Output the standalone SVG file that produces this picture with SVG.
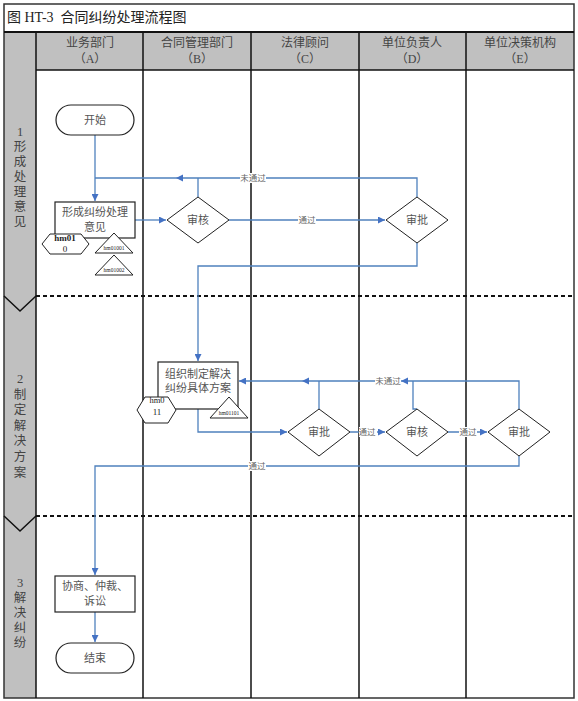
<svg xmlns="http://www.w3.org/2000/svg" width="578" height="701" viewBox="0 0 578 701">
<style>
.t{font-family:"Liberation Serif","Noto Sans CJK SC",serif;fill:#555;text-anchor:middle;}
.hd{font-size:12px;fill:#444;}
.nd{font-size:11px;}
.ph{font-size:12.5px;fill:#444;}
.lb{font-size:8.5px;fill:#666;}
.sm{font-family:"Liberation Serif",serif;fill:#222;text-anchor:middle;}
.shape{fill:#fff;stroke:#222;stroke-width:1;}
.box{fill:#fff;stroke:#222;stroke-width:1.2;}
.c{fill:none;stroke:#4f81bd;stroke-width:1.3;}
.lane{stroke:#111;stroke-width:1.5;fill:none;}
.dash{stroke:#111;stroke-width:2;stroke-dasharray:4 3;fill:none;}
</style>
<defs>
<marker id="arr" viewBox="0 0 10 10" refX="10" refY="5" markerWidth="7" markerHeight="7" markerUnits="userSpaceOnUse" orient="auto">
<path d="M0,0 L10,5 L0,10 z" fill="#4472c4"/>
</marker>
<path id="ahL" d="M0,0 L7,-3.5 L7,3.5 z" fill="#4472c4"/>
</defs>
<rect x="0" y="0" width="578" height="701" fill="#fff"/>
<g id="frame">
<rect x="4" y="70" width="32" height="628" fill="#c0c0c0"/>
<rect x="4" y="32" width="570" height="38" fill="#c0c0c0"/>
<rect x="4" y="4" width="570" height="694" fill="none" stroke="#333" stroke-width="1.5"/>
<line class="lane" x1="4" y1="32" x2="574" y2="32" style="stroke-width:2"/>
<line class="lane" x1="36" y1="70" x2="574" y2="70"/>
<line class="lane" x1="36" y1="32" x2="36" y2="698"/>
<line class="lane" x1="143" y1="32" x2="143" y2="698"/>
<line class="lane" x1="251" y1="32" x2="251" y2="698"/>
<line class="lane" x1="359" y1="32" x2="359" y2="698"/>
<line class="lane" x1="466" y1="32" x2="466" y2="698"/>
<line class="dash" x1="36" y1="296" x2="574" y2="296"/>
<line class="dash" x1="36" y1="516" x2="574" y2="516"/>
<polyline class="lane" points="4,296 20,311 36,296"/>
<polyline class="lane" points="4,516 20,531 36,516"/>
<text x="7" y="22" xml:space="preserve" style="white-space:pre;font-family:'Liberation Serif','Noto Sans CJK SC',serif;font-size:14px;fill:#222">图 HT-3  合同纠纷处理流程图</text>
<text class="t hd" x="90" y="47">业务部门</text>
<text class="t hd" x="90" y="63">（A）</text>
<text class="t hd" x="197" y="47">合同管理部门</text>
<text class="t hd" x="197" y="63">（B）</text>
<text class="t hd" x="305" y="47">法律顾问</text>
<text class="t hd" x="305" y="63">（C）</text>
<text class="t hd" x="412" y="47">单位负责人</text>
<text class="t hd" x="412" y="63">（D）</text>
<text class="t hd" x="520" y="47">单位决策机构</text>
<text class="t hd" x="520" y="63">（E）</text>
</g>
<g id="phase1">
<text class="t ph" x="20" y="136">1</text>
<text class="t ph" x="20" y="151">形</text>
<text class="t ph" x="20" y="166">成</text>
<text class="t ph" x="20" y="181">处</text>
<text class="t ph" x="20" y="196">理</text>
<text class="t ph" x="20" y="211">意</text>
<text class="t ph" x="20" y="226">见</text>
</g>
<g id="phase2">
<text class="t ph" x="20" y="383">2</text>
<text class="t ph" x="20" y="399">制</text>
<text class="t ph" x="20" y="414">定</text>
<text class="t ph" x="20" y="430">解</text>
<text class="t ph" x="20" y="445">决</text>
<text class="t ph" x="20" y="461">方</text>
<text class="t ph" x="20" y="477">案</text>
</g>
<g id="phase3">
<text class="t ph" x="20" y="587">3</text>
<text class="t ph" x="20" y="602">解</text>
<text class="t ph" x="20" y="617">决</text>
<text class="t ph" x="20" y="632">纠</text>
<text class="t ph" x="20" y="647">纷</text>
</g>
<g id="connectors">
<path class="c" d="M95,135 V201" marker-end="url(#arr)"/>
<path class="c" d="M417,197 V178 H95"/>
<path class="c" d="M198,197 V178"/>
<use href="#ahL" x="176" y="178"/>
<path class="c" d="M135,220 H166" marker-end="url(#arr)"/>
<path class="c" d="M229,220 H385" marker-end="url(#arr)"/>
<path class="c" d="M417,243 V266 H198 V361" marker-end="url(#arr)"/>
<path class="c" d="M198,409 V432 H287" marker-end="url(#arr)"/>
<path class="c" d="M350,432 H385" marker-end="url(#arr)"/>
<path class="c" d="M448,432 H487" marker-end="url(#arr)"/>
<path class="c" d="M519,409 V381 H239" marker-end="url(#arr)"/>
<path class="c" d="M319,409 V381"/>
<path class="c" d="M417,409 H413 V381"/>
<use href="#ahL" x="302" y="381"/>
<use href="#ahL" x="401" y="381"/>
<path class="c" d="M519,456 V466 H95 V575" marker-end="url(#arr)"/>
<path class="c" d="M95,612 V642" marker-end="url(#arr)"/>
<rect x="240" y="173" width="26" height="10" fill="#fff"/>
<text class="t lb" x="253" y="181">未通过</text>
<rect x="298" y="215" width="18" height="10" fill="#fff"/>
<text class="t lb" x="307" y="223">通过</text>
<rect x="359" y="427" width="18" height="10" fill="#fff"/>
<text class="t lb" x="367" y="435">通过</text>
<rect x="459" y="427" width="18" height="10" fill="#fff"/>
<text class="t lb" x="468" y="435">通过</text>
<rect x="375" y="376" width="26" height="10" fill="#fff"/>
<text class="t lb" x="388" y="384">未通过</text>
<rect x="248" y="461" width="18" height="10" fill="#fff"/>
<text class="t lb" x="257" y="469">通过</text>
</g>
<g id="start">
<rect class="box" x="56" y="105" width="78" height="30" rx="15"/>
<text class="t nd" x="95" y="124">开始</text>
</g>
<g id="form-opinion">
<rect class="box" x="55" y="202" width="80" height="36"/>
<text class="t nd" x="95" y="216">形成纠纷处理</text>
<text class="t nd" x="95" y="231">意见</text>
</g>
<g id="hm010">
<polygon class="shape" points="42,244 50,234 81,234 89,244 81,254 50,254"/>
<text class="sm" x="65" y="241" style="font-size:9px;font-weight:bold">hm01</text>
<text class="sm" x="65" y="252" style="font-size:9px">0</text>
</g>
<g id="hm01001">
<polygon class="shape" points="114,233 133,253 95,253"/>
<text class="sm" x="114" y="250" style="font-size:5.5px">hm01001</text>
</g>
<g id="hm01002">
<polygon class="shape" points="114,255 133,275 95,275"/>
<text class="sm" x="114" y="272" style="font-size:5.5px">hm01002</text>
</g>
<g id="review-b">
<polygon class="shape" points="198,197 229,220 198,243 167,220"/>
<text class="t nd" x="198" y="224">审核</text>
</g>
<g id="approve-d1">
<polygon class="shape" points="417,197 448,220 417,243 386,220"/>
<text class="t nd" x="417" y="224">审批</text>
</g>
<g id="plan">
<rect class="box" x="158" y="362" width="80" height="47"/>
<text class="t nd" x="198" y="378">组织制定解决</text>
<text class="t nd" x="198" y="392">纠纷具体方案</text>
</g>
<g id="hm011">
<polygon class="shape" points="137,410 145,397 168,397 176,410 168,423 145,423"/>
<text class="sm" x="157" y="403" style="font-size:8.5px">hm0</text>
<text class="sm" x="157" y="415" style="font-size:9px">11</text>
</g>
<g id="hm01101">
<polygon class="shape" points="229,397 248,418 210,418"/>
<text class="sm" x="229" y="415" style="font-size:5.5px">hm01101</text>
</g>
<g id="approve-c">
<polygon class="shape" points="319,409 350,432 319,456 288,432"/>
<text class="t nd" x="319" y="436">审批</text>
</g>
<g id="review-d">
<polygon class="shape" points="417,409 448,432 417,456 386,432"/>
<text class="t nd" x="417" y="436">审核</text>
</g>
<g id="approve-e">
<polygon class="shape" points="519,409 550,432 519,456 488,432"/>
<text class="t nd" x="519" y="436">审批</text>
</g>
<g id="negotiate">
<rect class="box" x="55" y="576" width="80" height="36"/>
<text class="t nd" x="95" y="590">协商、仲裁、</text>
<text class="t nd" x="95" y="605">诉讼</text>
</g>
<g id="end">
<rect class="box" x="56" y="643" width="78" height="30" rx="15"/>
<text class="t nd" x="95" y="662">结束</text>
</g>
</svg>
